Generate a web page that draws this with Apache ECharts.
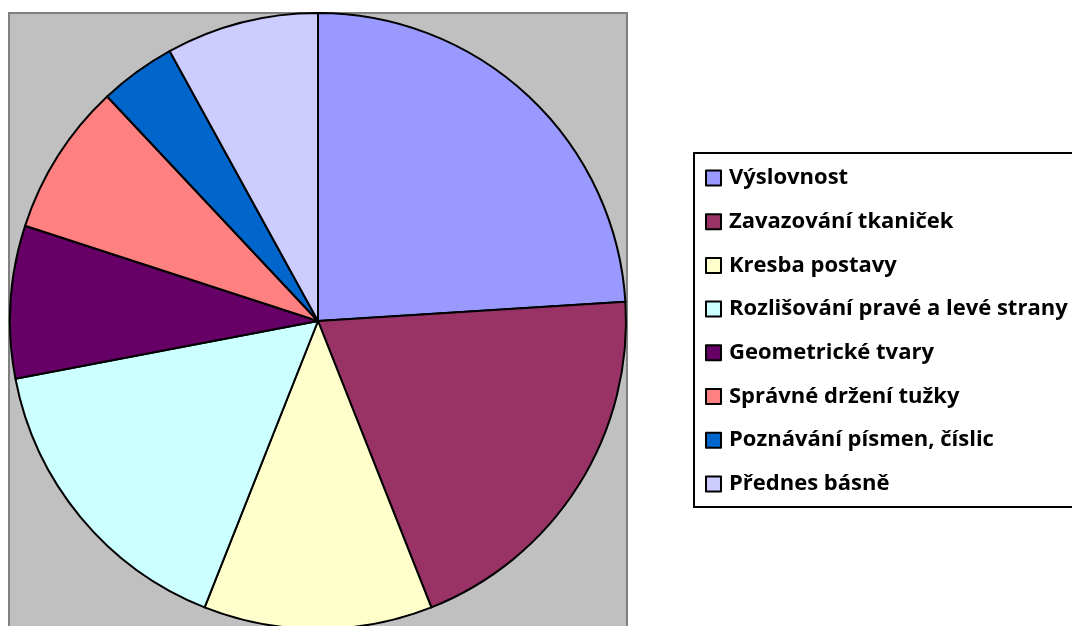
<!DOCTYPE html>
<html>
<head>
<meta charset="utf-8">
<script src="https://cdn.jsdelivr.net/npm/echarts@6/dist/echarts.min.js"></script>
<style>
  html, body { margin: 0; padding: 0; background: #fff; }
  #chart { width: 1072px; height: 626px; }
</style>
</head>
<body>
<div id="chart"></div>
<script>
var categories = ['Výslovnost', 'Zavazování tkaniček', 'Kresba postavy', 'Rozlišování pravé a levé strany',
    'Geometrické tvary', 'Správné držení tužky', 'Poznávání písmen, číslic', 'Přednes básně'];
var values = [6, 5, 3, 4, 2, 2, 1, 2];
var colors = ['#9999FF', '#993366', '#FFFFCC', '#CCFFFF', '#660066', '#FF8080', '#0066CC', '#CCCCFF'];

var chart = echarts.init(document.getElementById('chart'));

var pieData = categories.map(function (name, i) {
    return { name: name, value: values[i], itemStyle: { color: colors[i] } };
});

chart.setOption({
    animation: false,
    graphic: [{
        type: 'rect',
        z: -10,
        shape: { x: 9, y: 13, width: 618, height: 640 },
        style: { fill: '#C0C0C0', stroke: '#808080', lineWidth: 2 }
    }],
    legend: {
        orient: 'vertical',
        left: 694,
        top: 153,
        padding: [14, 10, 12, 11],
        itemGap: 21.7,
        itemWidth: 15,
        itemHeight: 15,
        icon: 'rect',
        borderColor: '#000',
        borderWidth: 2,
        itemStyle: { borderColor: '#000', borderWidth: 2 },
        textStyle: {
            fontFamily: 'Open Sans',
            fontWeight: 'bold',
            fontSize: 22,
            color: '#000',
            padding: [0, 0, 0, 3]
        },
        data: categories
    },
    series: [{
        type: 'pie',
        center: [318, 321],
        radius: 308,
        startAngle: 90,
        clockwise: true,
        label: { show: false },
        labelLine: { show: false },
        emphasis: { disabled: true },
        itemStyle: { borderColor: '#000', borderWidth: 2 },
        data: pieData
    }]
});
</script>
</body>
</html>
